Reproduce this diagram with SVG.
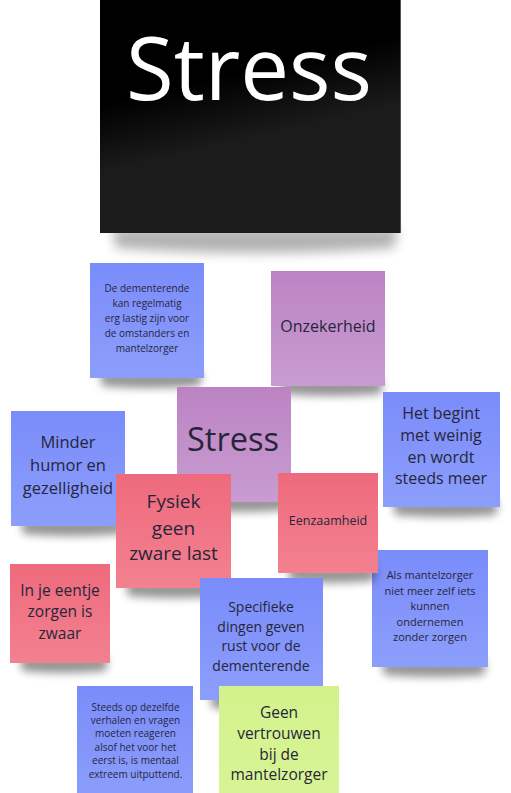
<svg xmlns="http://www.w3.org/2000/svg" width="511" height="793" viewBox="0 0 511 793">
<style>
text{font-family:"Open Sans","Noto Sans","Liberation Sans",sans-serif;fill:#26263a;text-anchor:middle}
.shadow{fill:#000;opacity:.42;filter:url(#blur)}
</style>
<defs>
<filter id="blur" x="-20%" y="-100%" width="140%" height="300%"><feGaussianBlur stdDeviation="4"/></filter>
<filter id="blurBig" x="-20%" y="-100%" width="140%" height="300%"><feGaussianBlur stdDeviation="6"/></filter>
<linearGradient id="gBlue" x1="0" y1="0" x2="0" y2="1"><stop offset="0" stop-color="#7a8cfa"/><stop offset="1" stop-color="#8c9efb"/></linearGradient>
<linearGradient id="gPurple" x1="0" y1="0" x2="0" y2="1"><stop offset="0" stop-color="#bc83c3"/><stop offset="1" stop-color="#c89cd1"/></linearGradient>
<linearGradient id="gRed" x1="0" y1="0" x2="0" y2="1"><stop offset="0" stop-color="#ee6a7d"/><stop offset="1" stop-color="#f3818f"/></linearGradient>
<linearGradient id="gGreen" x1="0" y1="0" x2="0" y2="1"><stop offset="0" stop-color="#d3f28b"/><stop offset="1" stop-color="#d8f496"/></linearGradient>
<linearGradient id="gBlack" x1="0" y1="0.45" x2="0.08" y2="0.72"><stop offset="0" stop-color="#000"/><stop offset="1" stop-color="#1b1b1b"/></linearGradient>
</defs>

<g id="title">
<path d="M112,228 L398,228 L394,248 Q255,258 116,248 Z" fill="#000" opacity=".3" filter="url(#blurBig)"/>
<rect x="100" y="0" width="301" height="233" fill="url(#gBlack)"/>
<line x1="400.5" y1="0" x2="400.5" y2="233" stroke="#555" stroke-width="1"/>
<text x="249" y="100" font-size="87" style="fill:#fff">Stress</text>
</g>

<g id="note-dementerende">
<path class="shadow" d="M100,372 L202,372 L200,386 Q150,390 102,386 Z"/>
<rect x="90" y="263" width="114" height="115" fill="url(#gBlue)"/>
<text font-size="10" x="147"><tspan x="147" y="291.5">De dementerende</tspan><tspan x="147" y="306.5">kan regelmatig</tspan><tspan x="147" y="321.5">erg lastig zijn voor</tspan><tspan x="147" y="336.5">de omstanders en</tspan><tspan x="147" y="351.5">mantelzorger</tspan></text>
</g>

<g id="note-onzekerheid">
<path class="shadow" d="M281,380 L383,380 L381,394 Q331,398 283,394 Z"/>
<rect x="271" y="271" width="114" height="115" fill="url(#gPurple)"/>
<text font-size="16" x="328" y="332">Onzekerheid</text>
</g>

<g id="note-stress">
<path class="shadow" d="M187,496 L289,496 L287,510 Q237,514 189,510 Z"/>
<rect x="177" y="387" width="114" height="115" fill="url(#gPurple)"/>
<text font-size="32.5" x="233" y="451">Stress</text>
</g>

<g id="note-minder">
<path class="shadow" d="M21,520 L123,520 L121,534 Q71,538 23,534 Z"/>
<rect x="11" y="411" width="114" height="115" fill="url(#gBlue)"/>
<text font-size="16.5"><tspan x="68" y="448">Minder</tspan><tspan x="68" y="471">humor en</tspan><tspan x="68" y="494">gezelligheid</tspan></text>
</g>

<g id="note-begint">
<path class="shadow" d="M393,501 L498,501 L496,515 Q445,519 395,515 Z"/>
<rect x="383" y="392" width="117" height="115" fill="url(#gBlue)"/>
<text font-size="16"><tspan x="441" y="419">Het begint</tspan><tspan x="441" y="441">met weinig</tspan><tspan x="441" y="463">en wordt</tspan><tspan x="441" y="484">steeds meer</tspan></text>
</g>

<g id="note-als">
<path class="shadow" d="M382,661 L486,661 L484,675 Q434,679 384,675 Z"/>
<rect x="372" y="550" width="116" height="117" fill="url(#gBlue)"/>
<text font-size="11"><tspan x="430" y="579">Als mantelzorger</tspan><tspan x="430" y="595">niet meer zelf iets</tspan><tspan x="430" y="610">kunnen</tspan><tspan x="430" y="626">ondernemen</tspan><tspan x="430" y="641">zonder zorgen</tspan></text>
</g>

<g id="note-eenzaamheid">
<path class="shadow" d="M288,567 L376,567 L374,581 Q330,585 290,581 Z"/>
<rect x="278" y="473" width="100" height="100" fill="url(#gRed)"/>
<text font-size="12.5" x="328" y="525">Eenzaamheid</text>
</g>

<g id="note-fysiek">
<path class="shadow" d="M126,582 L229,582 L227,596 Q176,600 128,596 Z"/>
<rect x="116" y="474" width="115" height="114" fill="url(#gRed)"/>
<text font-size="19"><tspan x="173.5" y="508">Fysiek</tspan><tspan x="173.5" y="534.5">geen</tspan><tspan x="173.5" y="560">zware last</tspan></text>
</g>

<g id="note-eentje">
<path class="shadow" d="M20,657 L108,657 L106,671 Q62,675 22,671 Z"/>
<rect x="10" y="564" width="100" height="99" fill="url(#gRed)"/>
<text font-size="15.5"><tspan x="60" y="595.5">In je eentje</tspan><tspan x="60" y="617">zorgen is</tspan><tspan x="60" y="638.5">zwaar</tspan></text>
</g>

<g id="note-specifieke">
<path class="shadow" d="M210,694 L321,694 L319,708 Q265,712 212,708 Z"/>
<rect x="200" y="578" width="123" height="122" fill="url(#gBlue)"/>
<text font-size="14"><tspan x="261" y="612">Specifieke</tspan><tspan x="261" y="631.5">dingen geven</tspan><tspan x="261" y="651">rust voor de</tspan><tspan x="261" y="671">dementerende</tspan></text>
</g>

<g id="note-steeds">
<rect x="77" y="686" width="116" height="115" fill="url(#gBlue)"/>
<text font-size="10"><tspan x="135.5" y="710.5">Steeds op dezelfde</tspan><tspan x="135.5" y="723.9">verhalen en vragen</tspan><tspan x="135.5" y="737.3">moeten reageren</tspan><tspan x="135.5" y="750.7">alsof het voor het</tspan><tspan x="135.5" y="764.1">eerst is, is mentaal</tspan><tspan x="135.5" y="777.5">extreem uitputtend.</tspan></text>
</g>

<g id="note-geen">
<rect x="219" y="686" width="120" height="115" fill="url(#gGreen)"/>
<text font-size="15.5"><tspan x="279" y="717.5">Geen</tspan><tspan x="279" y="738.5">vertrouwen</tspan><tspan x="279" y="759.5">bij de</tspan><tspan x="279" y="780">mantelzorger</tspan></text>
</g>

<g id="connectors"></g>
</svg>
